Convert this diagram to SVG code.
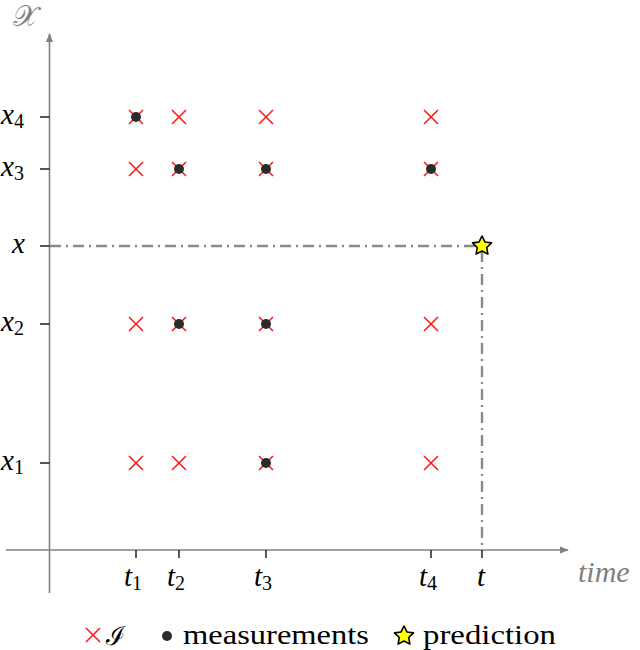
<svg xmlns="http://www.w3.org/2000/svg" width="640" height="650" viewBox="0 0 640 650">
<style>
.axis{stroke:#808080;stroke-width:1.6;fill:none}
.tick{stroke:#111;stroke-width:1.4}
.guide{stroke:#8a8a8a;stroke-width:2.4;fill:none;stroke-dasharray:11 5 2 5}
.cr{stroke:#ff1a1a;stroke-width:1.6}
.dot{fill:#2b2b2b}
.star{fill:#ffff00;stroke:#000;stroke-width:1.6;stroke-linejoin:round}
.m{font-family:"Liberation Serif","DejaVu Serif",serif;font-style:italic;font-size:29px;fill:#000}
.cal{font-family:"DejaVu Serif",serif;font-style:normal;font-size:26px}
.sub{font-style:normal;font-size:20px}
.lg{font-family:"Liberation Serif","DejaVu Serif",serif;font-size:27px;fill:#000}
.gray{fill:#808080}
</style>
<defs>
<marker id="ah" viewBox="0 0 10 10" refX="9" refY="5" markerWidth="9" markerHeight="9" markerUnits="userSpaceOnUse" orient="auto">
<path d="M0,1 L10,5 L0,9 Z" fill="#808080"/>
</marker>
<g id="x"><line class="cr" x1="-7" y1="-7" x2="7" y2="7"/><line class="cr" x1="-7" y1="7" x2="7" y2="-7"/></g>
<circle id="d" class="dot" r="5"/>
<polygon id="s" class="star" points="0,-10 2.94,-4.05 9.51,-3.09 4.76,1.55 5.88,8.09 0,5 -5.88,8.09 -4.76,1.55 -9.51,-3.09 -2.94,-4.05"/>
</defs>

<g id="axes">
<line class="axis" x1="49.5" y1="593" x2="49.5" y2="34" marker-end="url(#ah)"/>
<line class="axis" x1="6" y1="550" x2="568" y2="550" marker-end="url(#ah)"/>
<text class="m gray" x="13" y="26" style="font-family:'DejaVu Serif',serif;font-size:29px;font-style:normal">𝒳</text>
<text class="m gray" x="578" y="582" style="font-size:30px">time</text>
</g>

<g id="yticks">
<line class="tick" x1="40" y1="117" x2="49.5" y2="117"/>
<line class="tick" x1="40" y1="169" x2="49.5" y2="169"/>
<line class="tick" x1="40" y1="246" x2="49.5" y2="246"/>
<line class="tick" x1="40" y1="324" x2="49.5" y2="324"/>
<line class="tick" x1="40" y1="463" x2="49.5" y2="463"/>
<text class="m" x="1" y="124">x<tspan class="sub" dy="4">4</tspan></text>
<text class="m" x="1" y="176">x<tspan class="sub" dy="4">3</tspan></text>
<text class="m" x="12" y="253">x</text>
<text class="m" x="1" y="331">x<tspan class="sub" dy="4">2</tspan></text>
<text class="m" x="1" y="470">x<tspan class="sub" dy="4">1</tspan></text>
</g>

<g id="xticks">
<line class="tick" x1="136" y1="550" x2="136" y2="558"/>
<line class="tick" x1="179" y1="550" x2="179" y2="558"/>
<line class="tick" x1="266" y1="550" x2="266" y2="558"/>
<line class="tick" x1="431" y1="550" x2="431" y2="558"/>
<line class="tick" x1="482" y1="550" x2="482" y2="558"/>
<text class="m" x="124" y="586">t<tspan class="sub" dy="4">1</tspan></text>
<text class="m" x="167" y="586">t<tspan class="sub" dy="4">2</tspan></text>
<text class="m" x="254" y="586">t<tspan class="sub" dy="4">3</tspan></text>
<text class="m" x="419" y="586">t<tspan class="sub" dy="4">4</tspan></text>
<text class="m" x="477" y="586">t</text>
</g>

<g id="connectors">
<polyline class="guide" points="50,246 482,246 482,550"/>
</g>

<g id="grid">
<use href="#x" x="136" y="117"/><use href="#x" x="179" y="117"/><use href="#x" x="266" y="117"/><use href="#x" x="431" y="117"/>
<use href="#x" x="136" y="169"/><use href="#x" x="179" y="169"/><use href="#x" x="266" y="169"/><use href="#x" x="431" y="169"/>
<use href="#x" x="136" y="324"/><use href="#x" x="179" y="324"/><use href="#x" x="266" y="324"/><use href="#x" x="431" y="324"/>
<use href="#x" x="136" y="463"/><use href="#x" x="179" y="463"/><use href="#x" x="266" y="463"/><use href="#x" x="431" y="463"/>
<use href="#d" x="136" y="117"/>
<use href="#d" x="179" y="169"/><use href="#d" x="266" y="169"/><use href="#d" x="431" y="169"/>
<use href="#d" x="179" y="324"/><use href="#d" x="266" y="324"/>
<use href="#d" x="266" y="463"/>
</g>

<g id="prediction">
<use href="#s" x="482" y="246"/>
</g>

<g id="legend">
<use href="#x" x="93" y="635"/>
<text class="m cal" x="106" y="645">ℐ</text>
<use href="#d" x="167" y="636"/>
<text class="lg" x="183" y="644" textLength="186" lengthAdjust="spacingAndGlyphs">measurements</text>
<use href="#s" x="404" y="636"/>
<text class="lg" x="423" y="644" textLength="133" lengthAdjust="spacingAndGlyphs">prediction</text>
</g>
</svg>
